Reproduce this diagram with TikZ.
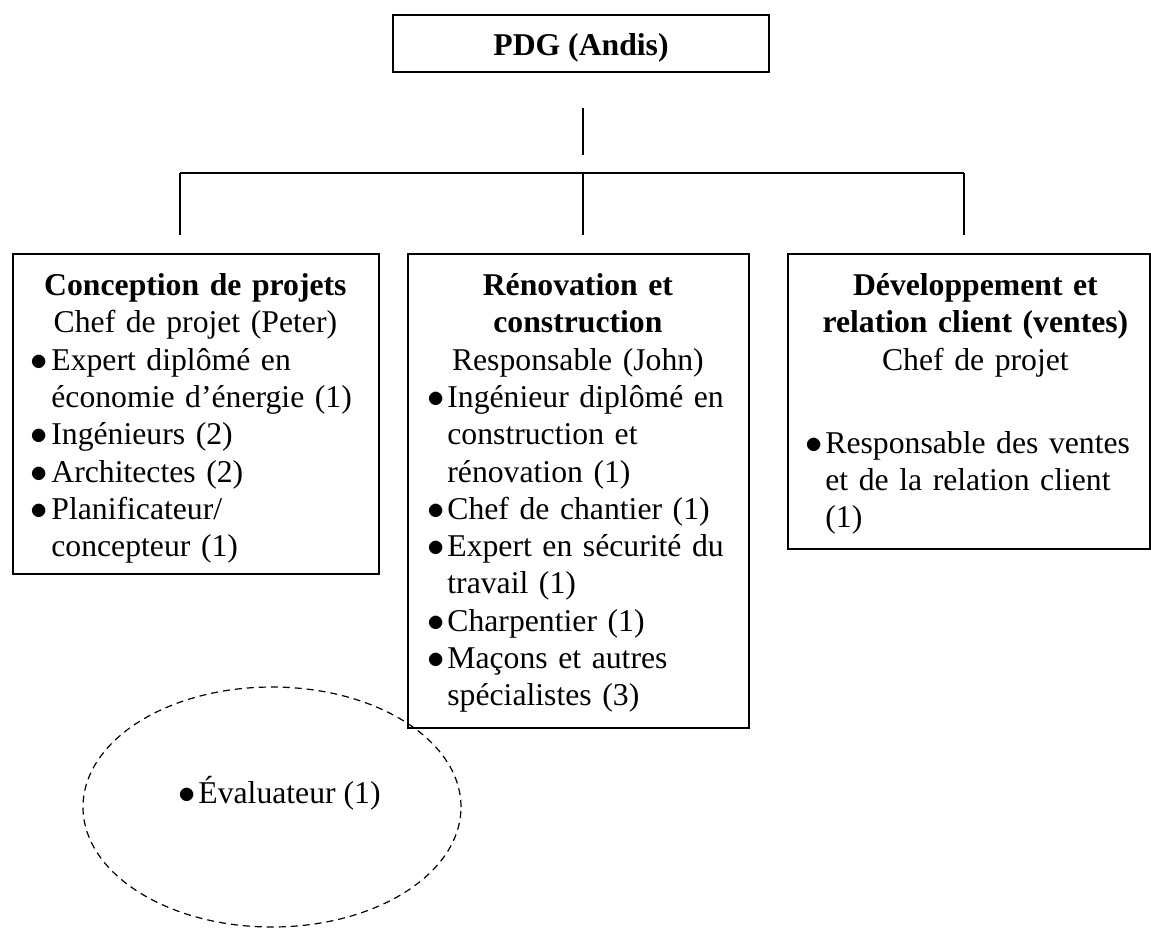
\documentclass[tikz,border=0pt]{standalone}
\usepackage{fontspec}
\setmainfont{Liberation Serif}
\usetikzlibrary{shapes.geometric}
\newlength\bulw
\setlength\bulw{9pt}
\newcommand\bul{\makebox[\bulw][l]{\hspace*{-1.2pt}$\bullet$}}
\newcommand\itm[2]{\par\leftskip=#1\relax\rightskip=0pt plus 1fil\noindent\hangindent=\bulw\hangafter=1\bul{\def\\{\unskip\hfil\break}#2}}
\begin{document}
\begin{tikzpicture}[x=0.5pt,y=-0.5pt,
  every node/.style={font=\fontsize{15.85pt}{18.65pt}\selectfont},
  boxframe/.style={draw,line width=0.8pt,inner sep=0pt,anchor=north west},
  txt/.style={inner sep=0pt,anchor=north west,align=left},
  link/.style={line width=0.8pt}]
\useasboundingbox (0,0) rectangle (1151,928);
% top box
\node[draw,line width=0.8pt,minimum width=188pt,inner sep=0pt,text height=20pt,text depth=8.5pt,anchor=base,font=\fontsize{15.85pt}{18.65pt}\selectfont\bfseries] (ceo) at (581,55) {PDG (Andis)};
% connector coordinates
\coordinate (v1) at (583,108);
\coordinate (v2) at (583,155);
\coordinate (hl) at (180,173);
\coordinate (hm) at (583,173);
\coordinate (hr) at (964,173);
\coordinate (dl) at (180,235);
\coordinate (dm) at (583,235);
\coordinate (dr) at (964,235);
\draw[link] (v1) -- (v2);
\draw[link] (hl) -- (hr);
\draw[link] (hl) -- (dl);
\draw[link] (hm) -- (dm);
\draw[link] (hr) -- (dr);
% department boxes
\node[boxframe,minimum width=183pt,minimum height=160pt] (b1) at (12,253) {};
\node[boxframe,minimum width=170.5pt,minimum height=237pt] (b2) at (407,253) {};
\node[boxframe,minimum width=181pt,minimum height=147.5pt] (b3) at (787,253) {};
% texts
\node[txt,text width=183pt] (t1) at (12,269) {\strut{\centering\bfseries Conception de projets\\ \mdseries Chef de projet (Peter)\par}%
\itm{10.5pt}{Expert diplômé en\\ économie d’énergie (1)}%
\itm{10.5pt}{Ingénieurs (2)}%
\itm{10.5pt}{Architectes (2)}%
\itm{10.5pt}{Planificateur/\\ concepteur (1)}\par};
\node[txt,text width=170.5pt] (t2) at (407,269) {\strut{\centering\bfseries Rénovation et\\ construction\\ \mdseries Responsable (John)\par}%
\itm{11pt}{Ingénieur diplômé en\\ construction et\\ rénovation (1)}%
\itm{11pt}{Chef de chantier (1)}%
\itm{11pt}{Expert en sécurité du\\ travail (1)}%
\itm{11pt}{Charpentier (1)}%
\itm{11pt}{Maçons et autres\\ spécialistes (3)}\par};
\node[txt,text width=188pt] (t3) at (787,269) {\strut{\centering\bfseries Développement et\\ relation client (ventes)\\ \mdseries Chef de projet\par}%
\vspace{22.85pt}%
\itm{10pt}{Responsable des ventes\\ et de la relation client\\ (1)}\par};
% evaluator ellipse
\node[ellipse,draw,dashed,dash pattern=on 3.5pt off 2.5pt,line width=0.6pt,minimum width=189pt,minimum height=120pt,inner sep=0pt] (ev) at (272,807) {};
\node[inner sep=0pt,anchor=base west] (evt) at (180,803) {\bul Évaluateur (1)};
\end{tikzpicture}
\end{document}
